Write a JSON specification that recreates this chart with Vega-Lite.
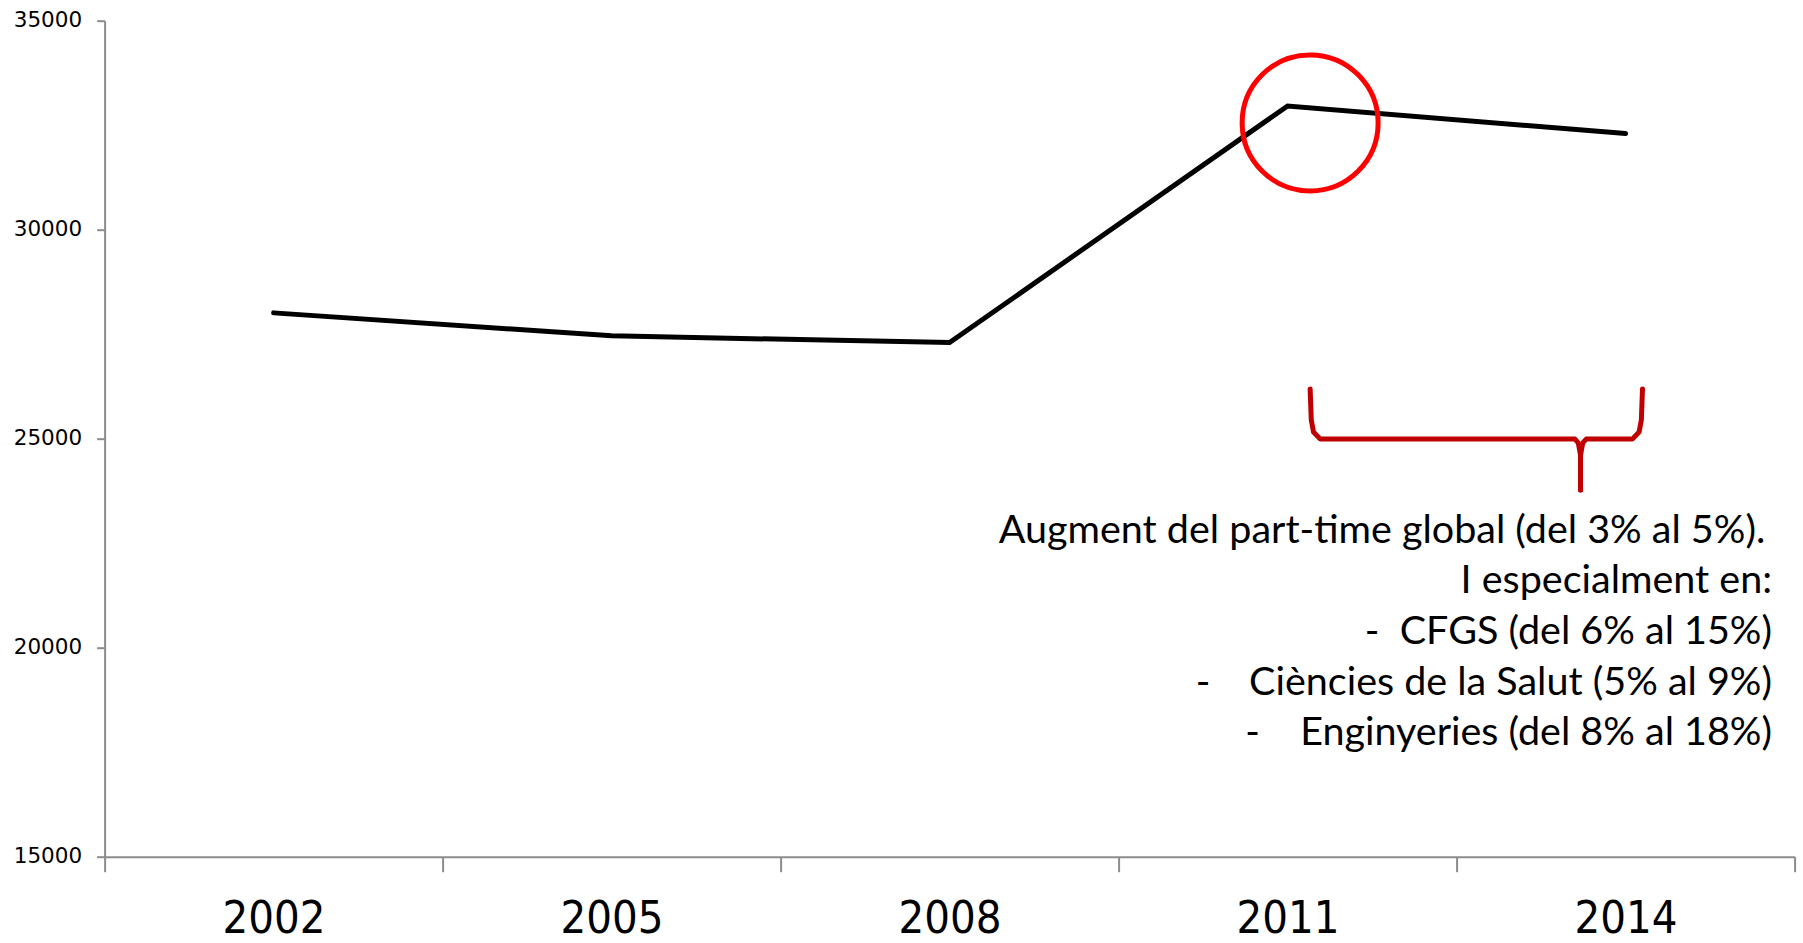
{
  "$schema": "https://vega.github.io/schema/vega-lite/v6.json",
  "width": 1690,
  "height": 836,
  "autosize": "none",
  "padding": {"left": 104.6, "top": 20.7, "right": 8.4, "bottom": 86},
  "background": "white",
  "config": {"view": {"stroke": null}},
  "layer": [
    {
      "data": {"values": [
        {"any": "2002", "valor": 28010},
        {"any": "2005", "valor": 27460},
        {"any": "2008", "valor": 27300},
        {"any": "2011", "valor": 32960},
        {"any": "2014", "valor": 32300}
      ]},
      "mark": {"type": "line", "color": "#000000", "strokeWidth": 5, "strokeCap": "round", "strokeJoin": "miter"},
      "encoding": {
        "x": {"field": "any", "type": "ordinal",
          "scale": {"type": "band", "paddingInner": 0, "paddingOuter": 0},
          "axis": {"title": null, "tickBand": "extent", "labelAngle": 0, "tickSize": 15, "tickWidth": 2, "tickColor": "#8c8c8c",
            "domainColor": "#8c8c8c", "domainWidth": 2, "labelFont": "DejaVu Sans Condensed", "labelFontSize": 45,
            "labelColor": "#000000", "labelPadding": 25}},
        "y": {"field": "valor", "type": "quantitative",
          "scale": {"domain": [15000, 35000], "nice": false, "zero": false},
          "axis": {"title": null, "values": [15000, 20000, 25000, 30000, 35000], "format": "d", "grid": false,
            "tickSize": 8, "tickWidth": 2, "tickColor": "#8c8c8c", "domainColor": "#8c8c8c", "domainWidth": 2,
            "labelFont": "DejaVu Sans", "labelFontSize": 21.5, "labelColor": "#000000", "labelPadding": 15}}
      }
    },
    {
      "data": {"values": [{"x": 2011.2, "y": 32555}]},
      "mark": {"type": "point", "shape": "circle", "filled": false, "size": 18496, "stroke": "#FF0000", "strokeWidth": 5, "opacity": 1},
      "encoding": {
        "x": {"field": "x", "type": "quantitative", "scale": {"domain": [2000.5, 2015.5], "nice": false, "zero": false}, "axis": null},
        "y": {"field": "y", "type": "quantitative"}
      }
    },
    {
      "data": {"values": [
        {"part": "a", "o": 1, "x": 2011.20, "y": 26190},
        {"part": "a", "o": 2, "x": 2011.21, "y": 25450},
        {"part": "a", "o": 3, "x": 2011.23, "y": 25160},
        {"part": "a", "o": 4, "x": 2011.29, "y": 24990},
        {"part": "a", "o": 5, "x": 2013.55, "y": 24990},
        {"part": "a", "o": 6, "x": 2013.58, "y": 24900},
        {"part": "a", "o": 7, "x": 2013.60, "y": 24610},
        {"part": "a", "o": 8, "x": 2013.60, "y": 23770},
        {"part": "b", "o": 1, "x": 2014.15, "y": 26190},
        {"part": "b", "o": 2, "x": 2014.14, "y": 25450},
        {"part": "b", "o": 3, "x": 2014.12, "y": 25160},
        {"part": "b", "o": 4, "x": 2014.06, "y": 24990},
        {"part": "b", "o": 5, "x": 2013.65, "y": 24990},
        {"part": "b", "o": 6, "x": 2013.62, "y": 24900},
        {"part": "b", "o": 7, "x": 2013.60, "y": 24610},
        {"part": "b", "o": 8, "x": 2013.60, "y": 23770}
      ]},
      "mark": {"type": "line", "color": "#C00000", "strokeWidth": 5, "strokeCap": "round", "strokeJoin": "round"},
      "encoding": {
        "x": {"field": "x", "type": "quantitative", "scale": {"domain": [2000.5, 2015.5], "nice": false, "zero": false}, "axis": null},
        "y": {"field": "y", "type": "quantitative"},
        "detail": {"field": "part", "type": "nominal"},
        "order": {"field": "o", "type": "quantitative"}
      }
    },
    {
      "data": {"values": [
        {"x": 2015.24, "y": 22509, "t": "Augment del part-time global (del 3% al 5%)."},
        {"x": 2015.30, "y": 21301, "t": "I especialment en:"},
        {"x": 2015.30, "y": 20090, "t": "CFGS (del 6% al 15%)"},
        {"x": 2015.30, "y": 18880, "t": "Ciències de la Salut (5% al 9%)"},
        {"x": 2015.30, "y": 17669, "t": "Enginyeries (del 8% al 18%)"}
      ]},
      "mark": {"type": "text", "align": "right", "baseline": "alphabetic", "font": "Lato", "fontSize": 39.5, "color": "#000000"},
      "encoding": {
        "x": {"field": "x", "type": "quantitative", "scale": {"domain": [2000.5, 2015.5], "nice": false, "zero": false}, "axis": null},
        "y": {"field": "y", "type": "quantitative"},
        "text": {"field": "t", "type": "nominal"}
      }
    },
    {
      "data": {"values": [
        {"x": 2011.75, "y": 20090, "t": "-"},
        {"x": 2010.25, "y": 18880, "t": "-"},
        {"x": 2010.69, "y": 17669, "t": "-"}
      ]},
      "mark": {"type": "text", "align": "center", "baseline": "alphabetic", "font": "Lato", "fontSize": 39.5, "color": "#000000"},
      "encoding": {
        "x": {"field": "x", "type": "quantitative", "scale": {"domain": [2000.5, 2015.5], "nice": false, "zero": false}, "axis": null},
        "y": {"field": "y", "type": "quantitative"},
        "text": {"field": "t", "type": "nominal"}
      }
    }
  ],
  "resolve": {"scale": {"x": "independent"}}
}
